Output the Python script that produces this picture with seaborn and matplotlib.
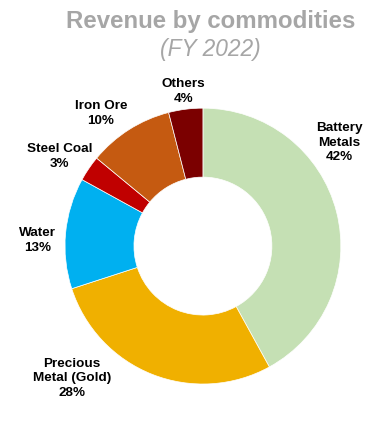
import matplotlib
matplotlib.use("Agg")
import matplotlib.pyplot as plt
import seaborn as sns

sns.set_theme(style="white")
plt.rcParams['font.family'] = ['Liberation Sans', 'DejaVu Sans']

categories = ["Battery\nMetals", "Precious\nMetal (Gold)", "Water", "Steel Coal", "Iron Ore", "Others"]
shares = [42, 28, 13, 3, 10, 4]
colors = ["#c5e0b4", "#f0b000", "#00b0f0", "#c00000", "#c55a11", "#7b0000"]
title = "Revenue by commodities"
subtitle = "(FY 2022)"

# label positions in pie-radius units (layout only)
label_pos = [(0.99, 0.75), (-0.95, -0.96), (-1.20, 0.04), (-1.04, 0.65), (-0.74, 0.96), (-0.14, 1.12)]

fig = plt.figure(figsize=(3.88, 4.34), dpi=100)
ax = fig.add_axes([0.1675, 0.115, 0.711, 0.636])
ax.pie(shares, colors=colors, startangle=90, counterclock=False,
       radius=1.0, wedgeprops=dict(width=0.5, edgecolor="white", linewidth=0.5))
for cat, val, (x, y) in zip(categories, shares, label_pos):
    ax.text(x, y, f"{cat}\n{val}%", ha="center", va="center", fontsize=9.7,
            fontweight="bold", color="#000000", linespacing=1.28)
ax.set_xlim(-1, 1)
ax.set_ylim(-1, 1)
ax.set_aspect("equal")
ax.axis("off")

fig.text(0.543, 0.950, title, ha="center", va="center", fontsize=17.3,
         fontweight="bold", color="#a6a6a6")
fig.text(0.543, 0.886, subtitle, ha="center", va="center", fontsize=16.4,
         fontstyle="italic", color="#a6a6a6")

fig.savefig("out.png", dpi=100, facecolor="white")
